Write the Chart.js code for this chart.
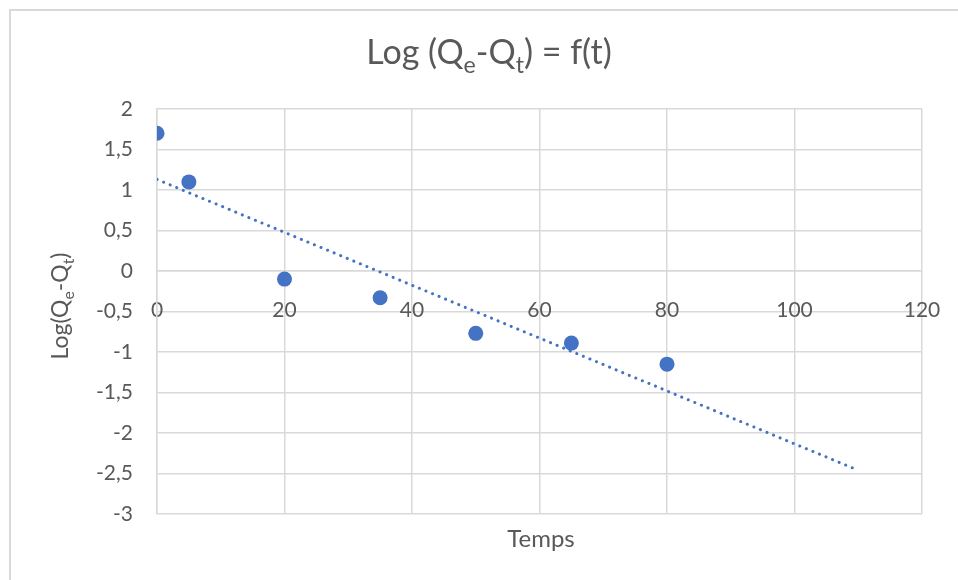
<!DOCTYPE html>
<html>
<head>
<meta charset="utf-8">
<script src="https://cdn.jsdelivr.net/npm/chart.js@4/dist/chart.umd.min.js"></script>
<style>
  html, body { margin: 0; padding: 0; background: #ffffff; overflow: hidden; }
  #wrap { width: 958px; height: 580px; position: relative; }
</style>
</head>
<body>
<div id="wrap"><canvas id="c" width="958" height="580"></canvas></div>
<script>
// Measured values: time vs log(Qe - Qt)
const temps = [0, 5, 20, 35, 50, 65, 80];
const logDiff = [1.70, 1.10, -0.10, -0.33, -0.77, -0.89, -1.15];

// Linear trendline end points
const trendTemps = [0, 110];
const trendLog = [1.13, -2.46];

// Axis ranges
const xMin = 0, xMax = 120, xStep = 20;
const yMin = -3, yMax = 2, yStep = 0.5;

// Text pieces (sub = subscript)
const titleRuns = [
  { t: 'Log (Q' }, { t: 'e', sub: true }, { t: '-Q' }, { t: 't', sub: true }, { t: ') = f(t)' }
];
const yTitleRuns = [
  { t: 'Log(Q' }, { t: 'e', sub: true }, { t: '-Q' }, { t: 't', sub: true }, { t: ')' }
];
const xTitle = 'Temps';

const FONT = 'Lato, "Open Sans", sans-serif';
const TEXT = '#595959';
const GRID = '#d9d9d9';
const BLUE = '#4472C4';

function runsWidth(ctx, runs, size) {
  let w = 0;
  for (const r of runs) {
    ctx.font = (r.sub ? size * 0.68 : size) + 'px ' + FONT;
    w += ctx.measureText(r.t).width;
  }
  return w;
}

// Draws a line of text pieces centred on (0, 0) in the current transform
function drawRunsCentered(ctx, runs, size) {
  const total = runsWidth(ctx, runs, size);
  let x = -total / 2;
  ctx.textAlign = 'left';
  ctx.textBaseline = 'alphabetic';
  for (const r of runs) {
    const s = r.sub ? size * 0.68 : size;
    ctx.font = s + 'px ' + FONT;
    ctx.fillText(r.t, x, r.sub ? size * 0.26 : 0);
    x += ctx.measureText(r.t).width;
  }
}

const textPlugin = {
  id: 'textPlugin',
  beforeDraw(chart) {
    const ctx = chart.ctx;
    ctx.save();
    ctx.fillStyle = '#ffffff';
    ctx.fillRect(0, 0, chart.width, chart.height);
    ctx.strokeStyle = GRID;
    ctx.lineWidth = 2;
    ctx.strokeRect(10, 10, chart.width + 20, chart.height + 20);
    ctx.restore();
  },
  afterDraw(chart) {
    const ctx = chart.ctx;
    ctx.save();
    ctx.fillStyle = TEXT;

    // Chart title
    ctx.save();
    ctx.translate(489, 64);
    drawRunsCentered(ctx, titleRuns, 34);
    ctx.restore();

    // Vertical axis title
    ctx.save();
    ctx.translate(68, 306);
    ctx.rotate(-Math.PI / 2);
    drawRunsCentered(ctx, yTitleRuns, 23);
    ctx.restore();

    // Horizontal axis title
    ctx.font = '24px ' + FONT;
    ctx.textAlign = 'center';
    ctx.textBaseline = 'alphabetic';
    ctx.fillText(xTitle, 541, 547);

    ctx.restore();
  }
};

const points = temps.map((t, i) => ({ x: t, y: logDiff[i] }));
const trend = trendTemps.map((t, i) => ({ x: t, y: trendLog[i] }));

new Chart(document.getElementById('c'), {
  type: 'scatter',
  data: {
    datasets: [
      {
        type: 'line',
        label: 'Tendance',
        data: trend,
        borderColor: BLUE,
        borderWidth: 3,
        borderDash: [0.1, 7],
        borderCapStyle: 'round',
        pointRadius: 0,
        fill: false,
        tension: 0
      },
      {
        label: 'Log(Qe-Qt)',
        data: points,
        backgroundColor: BLUE,
        borderColor: BLUE,
        pointRadius: 7.5,
        pointHoverRadius: 7.5,
        borderWidth: 0
      }
    ]
  },
  options: {
    responsive: false,
    animation: false,
    layout: { padding: { left: 0, right: 36, top: 109, bottom: 66 } },
    plugins: {
      legend: { display: false },
      title: { display: false },
      tooltip: { enabled: false }
    },
    scales: {
      x: {
        type: 'linear',
        position: { y: 0 },
        min: xMin,
        max: xMax,
        afterFit(scale) { scale.paddingLeft = 0; scale.paddingRight = 0; },
        ticks: {
          stepSize: xStep,
          color: TEXT,
          font: { family: FONT, size: 21 },
          padding: 27,
          maxRotation: 0
        },
        grid: { color: GRID, lineWidth: 1.5, drawTicks: false },
        border: { color: GRID, width: 1.5 }
      },
      y: {
        type: 'linear',
        min: yMin,
        max: yMax,
        afterFit(scale) { scale.width = 157; scale.paddingTop = 0; scale.paddingBottom = 0; },
        ticks: {
          stepSize: yStep,
          color: TEXT,
          font: { family: FONT, size: 21 },
          padding: 24,
          callback: (v) => String(v).replace('.', ',')
        },
        grid: { color: GRID, lineWidth: 1.5, drawTicks: false },
        border: { color: GRID, width: 1.5 }
      }
    }
  },
  plugins: [textPlugin]
});
</script>
</body>
</html>
